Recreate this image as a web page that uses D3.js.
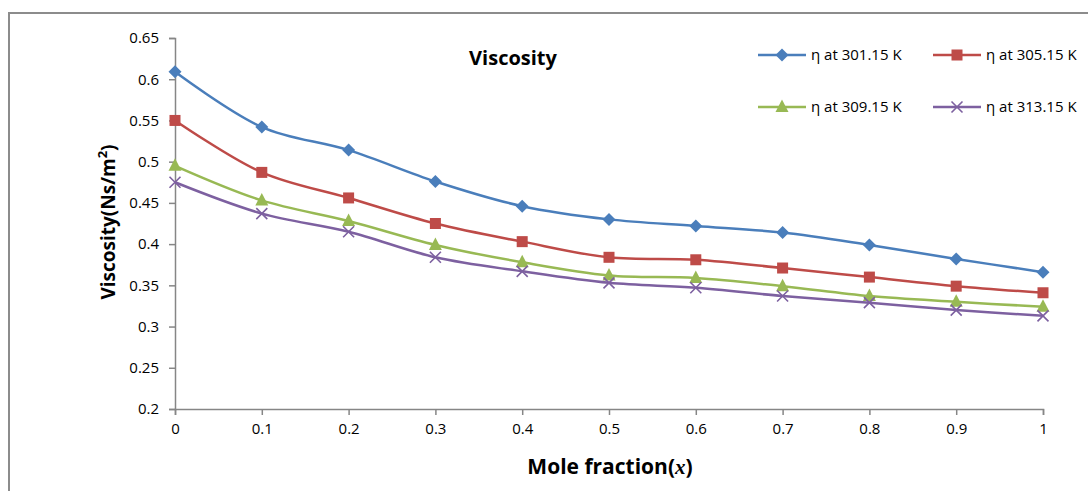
<!DOCTYPE html>
<html>
<head>
<meta charset="utf-8">
<script src="https://cdn.jsdelivr.net/npm/d3@7"></script>
<style>
  body { margin: 0; background: #fff; }
  svg text { font-family: "Open Sans", "Noto Sans", sans-serif; fill: #000; }
  .axis text { font-size: 15px; }
</style>
</head>
<body>
<svg width="1088" height="491"></svg>
<script>
var svg = d3.select("svg");

// data
var moleFractions = [0, 0.1, 0.2, 0.3, 0.4, 0.5, 0.6, 0.7, 0.8, 0.9, 1];
var eta301 = [0.609, 0.542, 0.514, 0.476, 0.446, 0.430, 0.422, 0.414, 0.399, 0.382, 0.366];
var eta305 = [0.550, 0.487, 0.456, 0.425, 0.403, 0.384, 0.381, 0.371, 0.360, 0.349, 0.341];
var eta309 = [0.495, 0.453, 0.428, 0.399, 0.378, 0.362, 0.359, 0.349, 0.337, 0.330, 0.324];
var eta313 = [0.475, 0.437, 0.415, 0.384, 0.367, 0.353, 0.347, 0.337, 0.329, 0.320, 0.313];
var seriesNames = ["η at 301.15 K", "η at 305.15 K", "η at 309.15 K", "η at 313.15 K"];
var xTicks = [0, 0.1, 0.2, 0.3, 0.4, 0.5, 0.6, 0.7, 0.8, 0.9, 1];
var yTicks = [0.2, 0.25, 0.3, 0.35, 0.4, 0.45, 0.5, 0.55, 0.6, 0.65];

var colors = ["#4a7ebb", "#be4b48", "#98b954", "#7d60a0"];
var symbols = ["diamond", "square", "triangle", "cross"];
var allSeries = [eta301, eta305, eta309, eta313];

// outer chart frame (right/bottom edges run off the picture)
svg.append("rect")
    .attr("x", 9).attr("y", 13)
    .attr("width", 1100).attr("height", 500)
    .attr("fill", "none")
    .attr("stroke", "#8c8c8c")
    .attr("stroke-width", 2);

var x = d3.scaleLinear().domain([0, 1]).range([175, 1043]);
var y = d3.scaleLinear().domain([0.2, 0.65]).range([409, 38]);

// axes
var xAxis = svg.append("g")
    .attr("class", "axis")
    .attr("transform", "translate(0," + y(0.2) + ")")
    .call(d3.axisBottom(x).tickValues(xTicks).tickSize(6).tickPadding(8)
      .tickFormat(function(d) { return d3.format("")(+d.toFixed(1)); }));

var yAxis = svg.append("g")
    .attr("class", "axis")
    .attr("transform", "translate(" + x(0) + ",0)")
    .call(d3.axisLeft(y).tickValues(yTicks).tickSize(6).tickPadding(10)
      .tickFormat(function(d) { return d3.format("")(+d.toFixed(2)); }));

[xAxis, yAxis].forEach(function(g) {
  g.attr("font-size", 15).attr("font-family", "'Open Sans', sans-serif");
  g.select(".domain").attr("stroke", "#868686").attr("stroke-width", 1.5);
  g.selectAll(".tick line").attr("stroke", "#868686").attr("stroke-width", 1.5);
  g.selectAll(".tick text").attr("fill", "#000");
});

// lines
var line = d3.line()
    .x(function(d, i) { return x(moleFractions[i]); })
    .y(function(d) { return y(d); })
    .curve(d3.curveCatmullRom.alpha(0.5));

function drawMarker(g, type, cx, cy, color) {
  if (type == "diamond") {
    g.append("path")
        .attr("d", "M0,-6.5L6.5,0L0,6.5L-6.5,0Z")
        .attr("transform", "translate(" + cx + "," + cy + ")")
        .attr("fill", color);
  } else if (type == "square") {
    g.append("rect")
        .attr("x", cx - 5.5).attr("y", cy - 5.5)
        .attr("width", 11).attr("height", 11)
        .attr("fill", color);
  } else if (type == "triangle") {
    g.append("path")
        .attr("d", "M0,-7.5L6.5,5L-6.5,5Z")
        .attr("transform", "translate(" + cx + "," + cy + ")")
        .attr("fill", color);
  } else {
    g.append("path")
        .attr("d", "M-5.5,-5.5L5.5,5.5M-5.5,5.5L5.5,-5.5")
        .attr("transform", "translate(" + cx + "," + cy + ")")
        .attr("stroke", color).attr("stroke-width", 1.6)
        .attr("fill", "none");
  }
}

allSeries.forEach(function(vals, s) {
  var g = svg.append("g");
  g.append("path")
      .datum(vals)
      .attr("d", line)
      .attr("fill", "none")
      .attr("stroke", colors[s])
      .attr("stroke-width", 2.5);
  vals.forEach(function(v, i) {
    drawMarker(g, symbols[s], x(moleFractions[i]), y(v), colors[s]);
  });
});

// legend
var legendPos = [[758, 55], [933, 55], [758, 107], [933, 107]];
seriesNames.forEach(function(name, s) {
  var lx = legendPos[s][0], ly = legendPos[s][1];
  var g = svg.append("g");
  g.append("line")
      .attr("x1", lx).attr("x2", lx + 48)
      .attr("y1", ly).attr("y2", ly)
      .attr("stroke", colors[s]).attr("stroke-width", 2.5);
  drawMarker(g, symbols[s], lx + 24, ly, colors[s]);
  g.append("text")
      .attr("x", lx + 53).attr("y", ly + 5)
      .style("font-size", "15px")
      .text(name);
});

// title
svg.append("text")
    .attr("x", 513).attr("y", 65)
    .attr("text-anchor", "middle")
    .style("font-size", "20px").attr("font-weight", "bold")
    .text("Viscosity");

// y axis title
var yt = svg.append("text")
    .attr("transform", "translate(115,222) rotate(-90)")
    .attr("text-anchor", "middle")
    .style("font-size", "19px").attr("font-weight", "bold");
yt.append("tspan").text("Viscosity(Ns/m");
yt.append("tspan").style("font-size", "13px").attr("dy", -8).text("2");
yt.append("tspan").attr("dy", 8).text(")");

// x axis title
var xt = svg.append("text")
    .attr("x", 610).attr("y", 474)
    .attr("text-anchor", "middle")
    .style("font-size", "21px").attr("font-weight", "bold");
xt.append("tspan").text("Mole fraction(");
xt.append("tspan")
    .style("font-family", "'Liberation Serif', serif")
    .attr("font-style", "italic").attr("font-weight", "bold")
    .text("x");
xt.append("tspan").text(")");
</script>
</body>
</html>
